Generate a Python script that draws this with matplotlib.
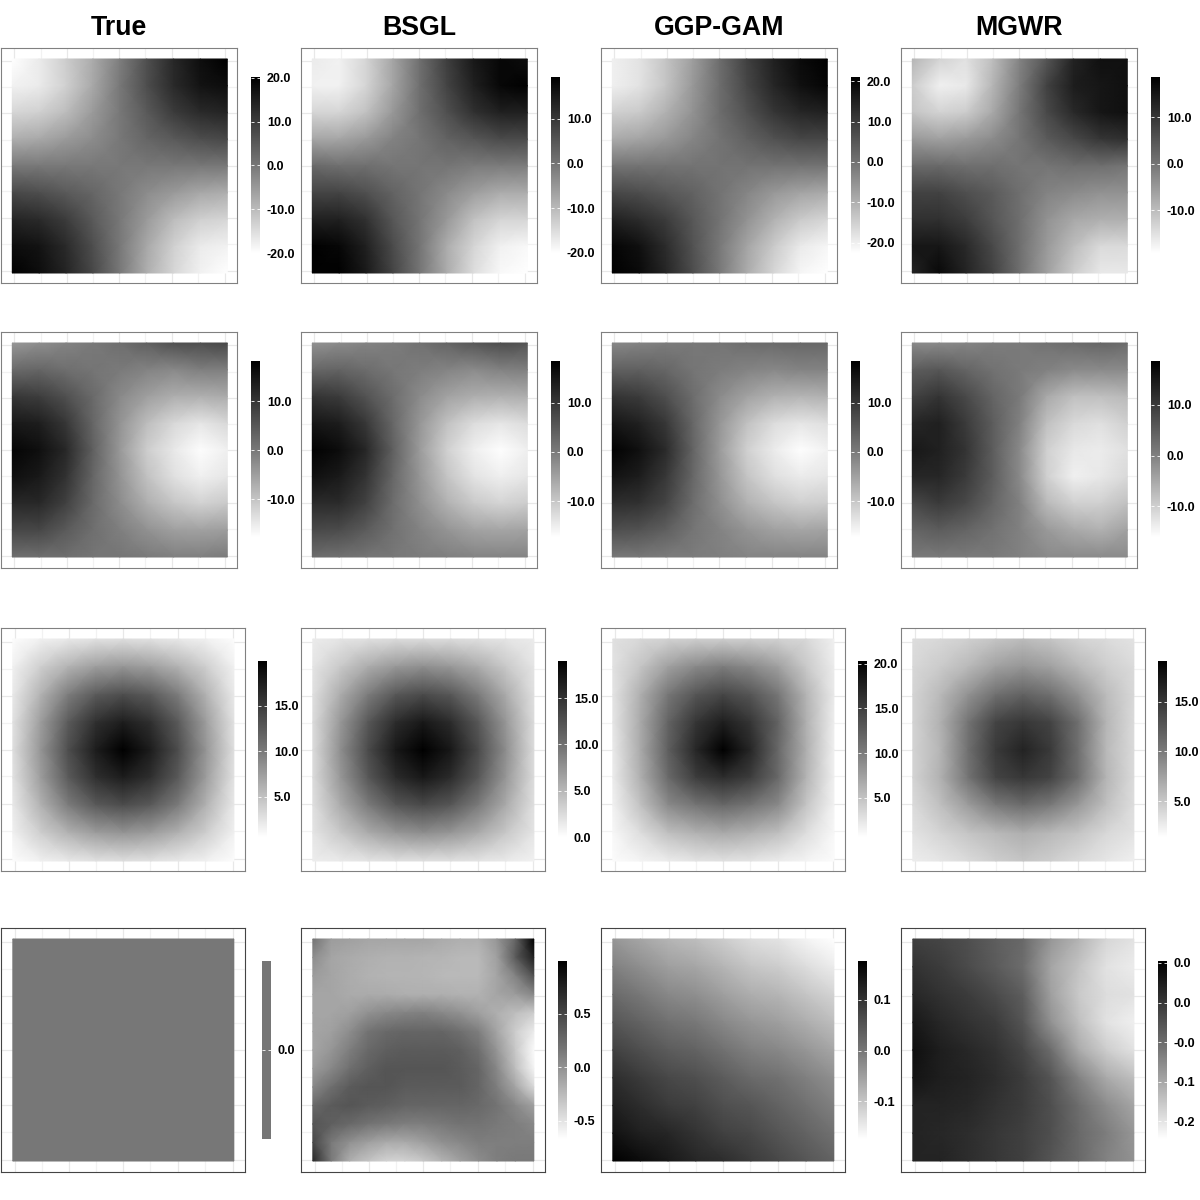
import numpy as np
import matplotlib
matplotlib.use('Agg')
import matplotlib.pyplot as plt
from matplotlib.colors import LinearSegmentedColormap, Normalize

plt.rcParams['font.family'] = ['Liberation Sans', 'DejaVu Sans']

titles = ['True', 'BSGL', 'GGP-GAM', 'MGWR']

# values, top row of each map first
b1_true = [[-20, -17, -12.6, -7.5, -0.9, 6.6, 13.4, 17.7, 20.2],
           [-18, -17, -13, -7, 0, 7, 13, 17, 18],
           [-14, -13, -10, -5, 0, 5, 10, 13, 14],
           [-8, -7, -5, -3, 0, 3, 5, 7, 8],
           [0, 0, 0, 0, 0, 0, 0, 0, 0],
           [8, 7, 5, 3, 0, -3, -5, -7, -8],
           [14, 13, 10, 5, 0, -5, -10, -13, -14],
           [18, 17, 13, 7, 0, -7, -13, -17, -18],
           [20, 18, 14, 8, 0, -8, -14, -18, -20]]
b1_bsgl = [[-17, -18, -14, -7, 1, 9, 15, 18, 17],
           [-18, -18, -14, -7, 1, 8, 14, 18, 19],
           [-14, -14, -11, -5, 1, 6, 11, 14, 14],
           [-7, -7, -5, -2, 0, 3, 5, 7, 7],
           [2, 1, 1, 0, 0, 0, -1, -1, -1],
           [8, 8, 6, 3, 0, -3, -6, -8, -8],
           [14, 14, 11, 5, 0, -5, -11, -14, -14],
           [19, 18, 14, 7, 0, -8, -14, -18, -19],
           [19, 19, 15, 8, 0, -8, -15, -19, -20]]
b1_ggp = [[-20, -18, -13, -7, 1, 9, 15, 19, 21],
          [-20, -18, -13, -6, 1, 8, 14, 18, 20],
          [-15, -14, -10, -5, 1, 6, 11, 14, 15],
          [-9, -8, -6, -3, 0, 3, 6, 8, 8],
          [0, 0, 0, 0, 0, 0, 0, 0, 0],
          [8, 7, 5, 3, 0, -3, -6, -8, -9],
          [15, 13, 10, 5, 0, -5, -10, -14, -16],
          [20, 18, 13, 6, -1, -8, -14, -19, -21],
          [21, 19, 14, 7, -1, -9, -16, -21, -22.5]]
b1_mgwr = [[-9, -13, -15, -10, -2, 5, 13, 16, 16],
           [-12, -17, -16, -9, -1, 8, 14, 15, 16],
           [-11, -13, -12, -7, 0, 7, 12, 15, 16],
           [-5, -6, -5, -3, 0, 4, 7, 10, 11],
           [2, 2, 1, 1, 0, 0, 1, 1, 0],
           [8, 8, 6, 4, 1, -2, -3, -4, -4],
           [11, 11, 9, 5, 1, -4, -7, -8, -8],
           [15, 15, 12, 7, 1, -5, -10, -14, -14],
           [13, 17, 13, 8, 1, -6, -12, -16, -16]]

b2_true = [[-4, -2.7, -1.4, 0, 1.4, 3.7, 6, 6.7, 7.5],
           [2.1, 2.9, 1.4, 0.6, -0.1, -1.4, -2.1, -0.8, -0.8],
           [9.8, 9, 6, 2.1, -2.1, -5, -7, -7.3, -6.6],
           [14.4, 13.6, 9.8, 2.9, -3.5, -9, -12.5, -14.4, -12.5],
           [17.4, 15.9, 12.1, 3.7, -4, -11, -14.5, -17.3, -15.7],
           [15.9, 14.4, 10.5, 2.9, -3.5, -9.5, -13.5, -15.7, -14.4],
           [12.1, 12.1, 8.3, 2.1, -2.5, -7, -10, -11.8, -10.5],
           [7.5, 7.5, 4.4, 1.4, -0.8, -3.2, -5, -5.3, -4.7],
           [1.4, 1.4, 1.4, 0.6, 0.6, -0.1, -0.8, -0.8, -0.1]]
b2_bsgl = [[-3, -2, -1, 0, 1.5, 3.5, 5.5, 7, 6],
           [3, 3.5, 2, 0.6, -0.1, -1.2, -2, -0.8, -0.5],
           [10.5, 9.5, 6, 2, -2, -5, -6.5, -7, -6.5],
           [15, 14, 10, 3, -3.5, -9, -12.5, -14, -12.5],
           [18, 16.5, 12.5, 4, -4, -11, -15, -17, -15],
           [16, 14.5, 10.5, 3, -3.5, -9.5, -13.5, -15, -14],
           [12, 12, 8.5, 2, -2.5, -7, -10, -11.5, -10.5],
           [7.5, 7, 4.5, 1.5, -1, -3.2, -5, -5.5, -5],
           [2, 1.5, 1, 0.5, 0, -0.5, -1, -1, -1]]
b2_ggp = [[-1.5, -1, 0, 0.5, 1, 2, 2.5, 3, 3],
          [4, 4, 3, 1, 0, -1, -1.5, -1, -1],
          [10.5, 9.5, 6.5, 2, -2, -5, -7, -7.5, -7],
          [15, 13.5, 10, 3, -3.5, -9, -12.5, -14, -13],
          [18, 16, 12, 3.5, -4, -11, -14.5, -17, -15.5],
          [15.5, 14, 10, 3, -3.5, -9.5, -13, -14.5, -14],
          [11.5, 11, 8, 2, -2.5, -7, -9.5, -11, -10.5],
          [6.5, 6, 4, 1, -1, -3.2, -4.8, -5.5, -5],
          [0.5, 0.5, 0, 0, -0.5, -1, -1, -1, -1]]
b2_mgwr = [[-1, -1, -0.5, 0.5, 1, 2, 3, 4, 3],
           [5, 6, 4, 2, 1, 0, -1, -1, -1],
           [9, 11, 8, 4, 1, -5, -8, -8, -7],
           [13, 14, 10, 5, 0, -8, -11, -12, -10],
           [15, 14, 11, 5, -1, -10, -13, -13.5, -12],
           [13, 13, 10, 5, -1, -10, -14, -13, -11],
           [8, 10, 8, 4, 0, -7, -10, -10, -8],
           [4, 5, 4, 2, 0, -3, -5, -6, -4],
           [1, 1, 1, 1, 0, -1, -1, -1, -1]]

b3_true = [[0.8, 1.6, 2.2, 2.7, 2.9, 2.7, 2.2, 1.6, 0.8],
           [1.6, 4, 6, 7.5, 8, 7.5, 6, 4, 1.6],
           [2.2, 6, 9.8, 12.5, 13.5, 12.5, 9.8, 6, 2.2],
           [2.7, 7.5, 12.5, 16, 17.5, 16, 12.5, 7.5, 2.7],
           [2.9, 8, 13.5, 17.5, 20, 17.5, 13.5, 8, 2.9],
           [2.7, 7.5, 12.5, 16, 17.5, 16, 12.5, 7.5, 2.7],
           [2.2, 6, 9.8, 12.5, 13.5, 12.5, 9.8, 6, 2.2],
           [1.6, 4, 6, 7.5, 8, 7.5, 6, 4, 1.6],
           [0.8, 1.6, 2.2, 2.7, 2.9, 2.7, 2.2, 1.6, 0.8]]
b3_bsgl = [[1.4, 1.8, 2.2, 2.5, 2.5, 2.5, 2.2, 1.8, 1.4],
           [1.8, 3.8, 5.8, 7.2, 7.8, 7.2, 5.8, 3.8, 1.8],
           [2.2, 5.8, 9.2, 12, 13, 12, 9.2, 5.8, 2.2],
           [2.5, 7.2, 12, 15.5, 17, 15.5, 12, 7.2, 2.5],
           [2.5, 7.8, 13, 17, 19, 17, 13, 7.8, 2.5],
           [2.5, 7.2, 12, 15.5, 17, 15.5, 12, 7.2, 2.5],
           [2.2, 5.8, 9.2, 12, 13, 12, 9.2, 5.8, 2.2],
           [1.8, 3.8, 5.8, 7.2, 7.8, 7.2, 5.8, 3.8, 1.8],
           [1.2, 1.5, 1.9, 2.2, 2.2, 2.2, 1.9, 1.5, 0.9]]
b3_ggp = [[2.8, 3.5, 3.9, 4.1, 4.2, 4.1, 3.9, 3.5, 1.7],
          [2.7, 4.8, 7.5, 9.2, 10, 9.2, 7.5, 4.6, 2],
          [2.6, 6.4, 10.5, 13.2, 14.5, 13.2, 10.5, 6, 2.2],
          [2.4, 6.8, 12, 15.8, 17.8, 15.8, 12, 6.3, 1.9],
          [2.1, 6.8, 12.4, 17, 20.3, 17, 11.6, 6.4, 1.7],
          [2, 6.3, 11.5, 15.2, 16.6, 15.2, 11.5, 6, 1.7],
          [1.6, 5, 9, 10.6, 11.6, 10.6, 9, 4.8, 1.5],
          [1.2, 3, 5.2, 6.2, 6.8, 6.2, 5.2, 3, 1.2],
          [0.9, 1.4, 2, 2.6, 2.8, 2.6, 2, 1.4, 0.9]]
b3_mgwr = [[3.6, 4, 4.5, 5.2, 5.8, 5.2, 4.2, 3.8, 3.2],
           [4, 4.8, 6, 7.5, 8.2, 7.5, 6, 4.6, 3.8],
           [4.2, 6, 8.5, 10.8, 11.8, 10.8, 8.5, 5.8, 4],
           [4.2, 6.5, 10.5, 14, 15, 14, 10.8, 6.2, 3.8],
           [4.2, 6.2, 10.8, 14.8, 16.5, 14.8, 10.8, 6, 3.8],
           [4.2, 6.5, 10.5, 14, 15, 14, 10.8, 6.2, 3.8],
           [3.8, 5.5, 7.8, 10, 11, 10, 8, 5.5, 3.6],
           [3.2, 4.2, 5.2, 6, 6.6, 6, 5.2, 4, 3.2],
           [2.6, 3, 3.8, 4.6, 5.2, 4.6, 3.8, 3, 2.4]]

b4_true = [[0, 0], [0, 0]]
b4_bsgl = [[0.19, -0.06, -0.09, -0.12, -0.12, -0.12, -0.12, -0.15, -0.18, -0.18, -0.03, 0.29, 0.99],
           [0.03, -0.12, -0.15, -0.18, -0.20, -0.20, -0.21, -0.22, -0.24, -0.24, -0.09, 0.36, 0.78],
           [-0.06, -0.12, -0.16, -0.20, -0.21, -0.21, -0.22, -0.24, -0.24, -0.24, -0.12, 0.09, 0.43],
           [-0.12, -0.12, -0.15, -0.15, -0.16, -0.18, -0.18, -0.18, -0.20, -0.20, -0.12, -0.06, 0.06],
           [-0.12, -0.12, -0.09, 0, 0.06, 0.09, 0.11, 0.06, 0, -0.09, -0.18, -0.27, -0.36],
           [-0.12, -0.09, 0.03, 0.19, 0.26, 0.29, 0.29, 0.29, 0.22, 0.12, -0.12, -0.36, -0.55],
           [-0.12, -0.03, 0.12, 0.26, 0.33, 0.36, 0.36, 0.36, 0.33, 0.22, -0.03, -0.33, -0.64],
           [-0.06, 0.06, 0.22, 0.33, 0.40, 0.40, 0.40, 0.40, 0.36, 0.29, 0.06, -0.27, -0.61],
           [0.06, 0.22, 0.36, 0.40, 0.40, 0.36, 0.36, 0.36, 0.36, 0.29, 0.12, -0.12, -0.43],
           [0.26, 0.36, 0.40, 0.36, 0.33, 0.29, 0.29, 0.29, 0.29, 0.26, 0.19, 0.06, -0.09],
           [0.40, 0.33, 0.26, 0.19, 0.15, 0.12, 0.12, 0.15, 0.19, 0.19, 0.15, 0.12, 0.06],
           [0.50, 0.15, 0, -0.09, -0.15, -0.15, -0.09, 0, 0.06, 0.12, 0.12, 0.12, 0.12],
           [0.71, 0.15, -0.18, -0.30, -0.40, -0.40, -0.33, -0.21, -0.09, 0.03, 0.12, 0.15, 0.15]]
b4_ggp = [[-0.04, -0.06, -0.08, -0.09, -0.11, -0.13, -0.14, -0.16, -0.175],
          [-0.01, -0.03, -0.05, -0.06, -0.08, -0.10, -0.11, -0.13, -0.15],
          [0.02, 0, -0.02, -0.03, -0.05, -0.07, -0.08, -0.10, -0.12],
          [0.05, 0.03, 0.01, 0, -0.02, -0.04, -0.05, -0.07, -0.09],
          [0.08, 0.06, 0.04, 0.03, 0.01, -0.01, -0.02, -0.04, -0.06],
          [0.11, 0.09, 0.07, 0.06, 0.04, 0.02, 0.01, -0.01, -0.03],
          [0.13, 0.11, 0.09, 0.08, 0.06, 0.05, 0.03, 0.01, -0.01],
          [0.15, 0.13, 0.12, 0.10, 0.08, 0.07, 0.05, 0.03, 0.01],
          [0.177, 0.16, 0.14, 0.12, 0.11, 0.09, 0.07, 0.05, 0.03]]
b4_mgwr = [[-0.009, -0.014, -0.023, -0.037, -0.047, -0.086, -0.110, -0.139, -0.148],
           [0.005, -0.004, -0.018, -0.033, -0.051, -0.098, -0.123, -0.148, -0.156],
           [0.015, 0.005, -0.004, -0.018, -0.037, -0.094, -0.127, -0.144, -0.148],
           [0.029, 0.015, 0.005, -0.004, -0.028, -0.082, -0.119, -0.148, -0.160],
           [0.038, 0.024, 0.015, 0.005, -0.014, -0.051, -0.102, -0.131, -0.148],
           [0.034, 0.024, 0.019, 0.010, -0.004, -0.028, -0.069, -0.102, -0.119],
           [0.019, 0.019, 0.015, 0.005, -0.004, -0.023, -0.051, -0.077, -0.098],
           [0.019, 0.015, 0.010, 0, -0.009, -0.023, -0.047, -0.065, -0.086],
           [0.019, 0.019, 0.010, 0, -0.009, -0.028, -0.047, -0.069, -0.082]]

maps = [[b1_true, b1_bsgl, b1_ggp, b1_mgwr],
        [b2_true, b2_bsgl, b2_ggp, b2_mgwr],
        [b3_true, b3_bsgl, b3_ggp, b3_mgwr],
        [b4_true, b4_bsgl, b4_ggp, b4_mgwr]]

# colour bar ranges (low, high) and ticks
bar_ranges = [[(-20.0, 20.2), (-20.05, 19.3), (-22.5, 21), (-19.2, 18.6)],
              [(-17.7, 18.2), (-17.2, 18.4), (-17.2, 18.4), (-16, 18.6)],
              [(0.6, 19.9), (0, 19), (0.6, 20.3), (1.4, 19.1)],
              [(-1, 1), (-0.67, 0.995), (-0.175, 0.177), (-0.1725, 0.0525)]]
tick_values = [[[20, 10, 0, -10, -20], [10, 0, -10, -20], [20, 10, 0, -10, -20], [10, 0, -10]],
               [[10, 0, -10], [10, 0, -10], [10, 0, -10], [10, 0, -10]],
               [[15, 10, 5], [15, 10, 5, 0], [20, 15, 10, 5], [15, 10, 5]],
               [[0], [0.5, 0, -0.5], [0.1, 0, -0.1], [0.05, 0, -0.05, -0.1, -0.15]]]
mgwr4_labels = ['0.0', '0.0', '-0.0', '-0.1', '-0.2']

# pixel layout of the 1200x1200 picture
frame_left = [1, 301, 601, 901]
frame_top = [48, 332, 628, 928]
frame_bottom = [283, 568, 871, 1172]
frame_width = [236, 236, 244, 244]
img_inset = [11.3, 11.3, 11.8, 11.8]
img_top = [59, 343, 639, 939]
img_bottom = [273, 557, 861, 1161]
img_width = [215, 215, 221, 221]
bar_top = [77, 361, 661, 961]
bar_bottom = [253, 537, 837, 1139]
bar_offset = [250, 250, 257, 257]
frame_color = ['#808080', '#808080', '#808080', '#444444']
grid_pos = [0.057, 0.168, 0.278, 0.39, 0.5, 0.61, 0.725, 0.836, 0.95]

cmap = LinearSegmentedColormap.from_list('white_black', ['white', '#777777', 'black'])

fig = plt.figure(figsize=(12, 12), dpi=100)


def px_axes(left, top, right, bottom):
    return fig.add_axes([left / 1200, 1 - bottom / 1200, (right - left) / 1200, (bottom - top) / 1200])


for c, title in enumerate(titles):
    fig.text((frame_left[c] + 118) / 1200, 1 - 28 / 1200, title, ha='center', va='center',
             fontsize=19.3, fontweight='bold', color='black')

for r in range(4):
    for c in range(4):
        x0 = frame_left[c]
        x1 = x0 + frame_width[r]
        ax = px_axes(x0, frame_top[r], x1, frame_bottom[r])
        ax.set_xlim(x0, x1)
        ax.set_ylim(frame_bottom[r], frame_top[r])
        ax.set_xticks([])
        ax.set_yticks([])
        for s in ax.spines.values():
            s.set_color(frame_color[r])
            s.set_linewidth(0.8)

        # panel grid, only seen in the margin around the map
        for i, g in enumerate(grid_pos):
            col = '#e8e8e8' if i % 2 == 0 else '#f2f2f2'
            ax.axvline(x0 + g * frame_width[r], color=col, lw=0.9, zorder=1)
            ax.axhline(frame_top[r] + g * (frame_bottom[r] - frame_top[r]), color=col, lw=0.9, zorder=1)

        lo, hi = bar_ranges[r][c]
        norm = Normalize(lo, hi)
        z = np.array(maps[r][c], dtype=float)
        ix0 = x0 + img_inset[r]
        xs = np.linspace(ix0, ix0 + img_width[r], z.shape[1])
        ys = np.linspace(img_top[r], img_bottom[r], z.shape[0])
        ax.pcolormesh(xs, ys, z, shading='gouraud', cmap=cmap, norm=norm, zorder=2)

        # colour bar
        bx0 = x0 + bar_offset[r] + (4 if r == 3 and c == 0 else 0)
        cax = px_axes(bx0, bar_top[r], bx0 + 9, bar_bottom[r])
        if r == 3 and c == 0:
            levels = np.zeros((2, 2))
        else:
            levels = np.linspace(lo, hi, 256).reshape(-1, 1)
        cax.imshow(levels, origin='lower', aspect='auto', cmap=cmap, norm=norm,
                   extent=(0, 1, lo, hi), interpolation='bilinear')
        for s in cax.spines.values():
            s.set_visible(False)
        cax.set_xticks([])
        ticks = tick_values[r][c]
        cax.set_yticks(ticks)
        if r == 3 and c == 3:
            cax.set_yticklabels(mgwr4_labels)
        else:
            cax.set_yticklabels([f'{t:.1f}' for t in ticks])
        cax.set_ylim(lo, hi)
        cax.yaxis.tick_right()
        cax.tick_params(axis='y', left=True, right=True, direction='in', length=2, width=0.6,
                        color='white', pad=5, labelsize=9, labelcolor='black')
        for lab in cax.get_yticklabels():
            lab.set_fontweight('bold')

fig.savefig('out.png', dpi=100)
plt.close(fig)
